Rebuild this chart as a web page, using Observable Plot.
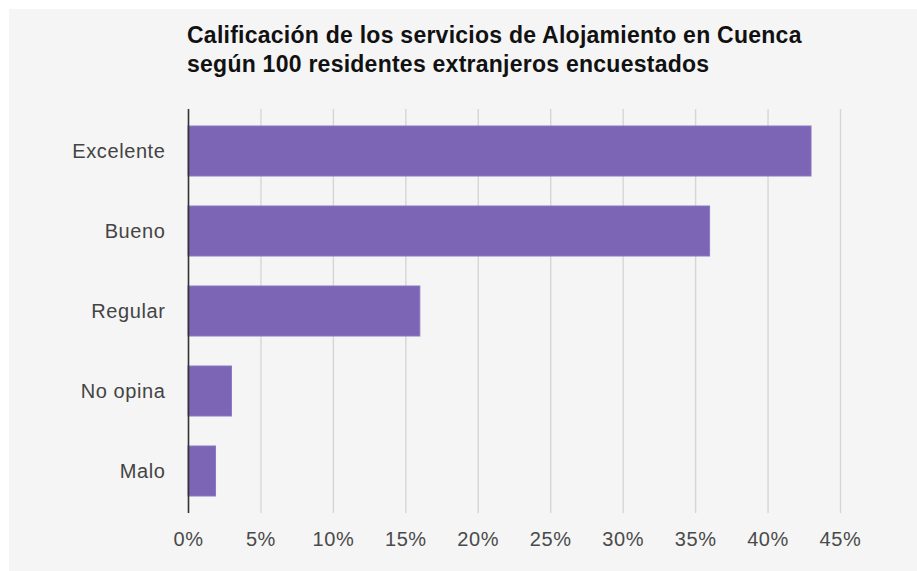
<!DOCTYPE html>
<html>
<head>
<meta charset="utf-8">
<script src="https://cdn.jsdelivr.net/npm/d3@7"></script>
<script src="https://cdn.jsdelivr.net/npm/@observablehq/plot@0.6"></script>
<style>
  html, body { margin: 0; padding: 0; background: #ffffff; }
  #frame { position: absolute; left: 9px; top: 9px; width: 908px; height: 562px; background: #f5f5f5; overflow: hidden; }
  #title { position: absolute; left: 178px; top: 12px; font-family: "Liberation Sans", Arial, sans-serif; font-weight: bold; font-size: 23px; letter-spacing: 0.25px; line-height: 29px; color: #111; white-space: nowrap; }
  #chart { position: absolute; left: 0; top: 69px; }
  #chart svg text { letter-spacing: 0.6px; }
</style>
</head>
<body>
<div id="frame">
  <div id="title">Calificación de los servicios de Alojamiento en Cuenca<br>según 100 residentes extranjeros encuestados</div>
  <div id="chart"></div>
</div>
<script>
const categories = ["Excelente", "Bueno", "Regular", "No opina", "Malo"];
const values = [43, 36, 16, 3, 1.9];
const xTicks = [0, 5, 10, 15, 20, 25, 30, 35, 40, 45];

const data = categories.map((c, i) => ({category: c, value: values[i]}));

const chart = Plot.plot({
  width: 908,
  height: 493,
  marginLeft: 179,
  marginRight: 77,
  marginTop: 31,
  marginBottom: 58,
  style: {background: "transparent", fontFamily: "'Liberation Sans', Arial, sans-serif", fontSize: "20px", color: "#444"},
  x: {domain: [0, 45], ticks: xTicks, tickFormat: d => d + "%", label: null},
  y: {domain: categories, paddingInner: 0.38, paddingOuter: 0.19, label: null},
  marks: [
    Plot.ruleX(xTicks.filter(d => d > 0), {stroke: "#d6d6d6", strokeWidth: 1.4}),
    Plot.axisX({ticks: xTicks, tickFormat: d => d + "%", tickSize: 0, tickPadding: 18, fill: "#4a4a4a", fontSize: 20, label: null}),
    Plot.axisY({tickSize: 0, tickPadding: 23, fill: "#444", fontSize: 20, label: null}),
    Plot.barX(data, {x: "value", y: "category", fill: "#7b65b4", stroke: "#8c78c2", strokeWidth: 1}),
    Plot.ruleX([0], {stroke: "#333", strokeWidth: 1.6})
  ]
});
document.getElementById("chart").appendChild(chart);
</script>
</body>
</html>
